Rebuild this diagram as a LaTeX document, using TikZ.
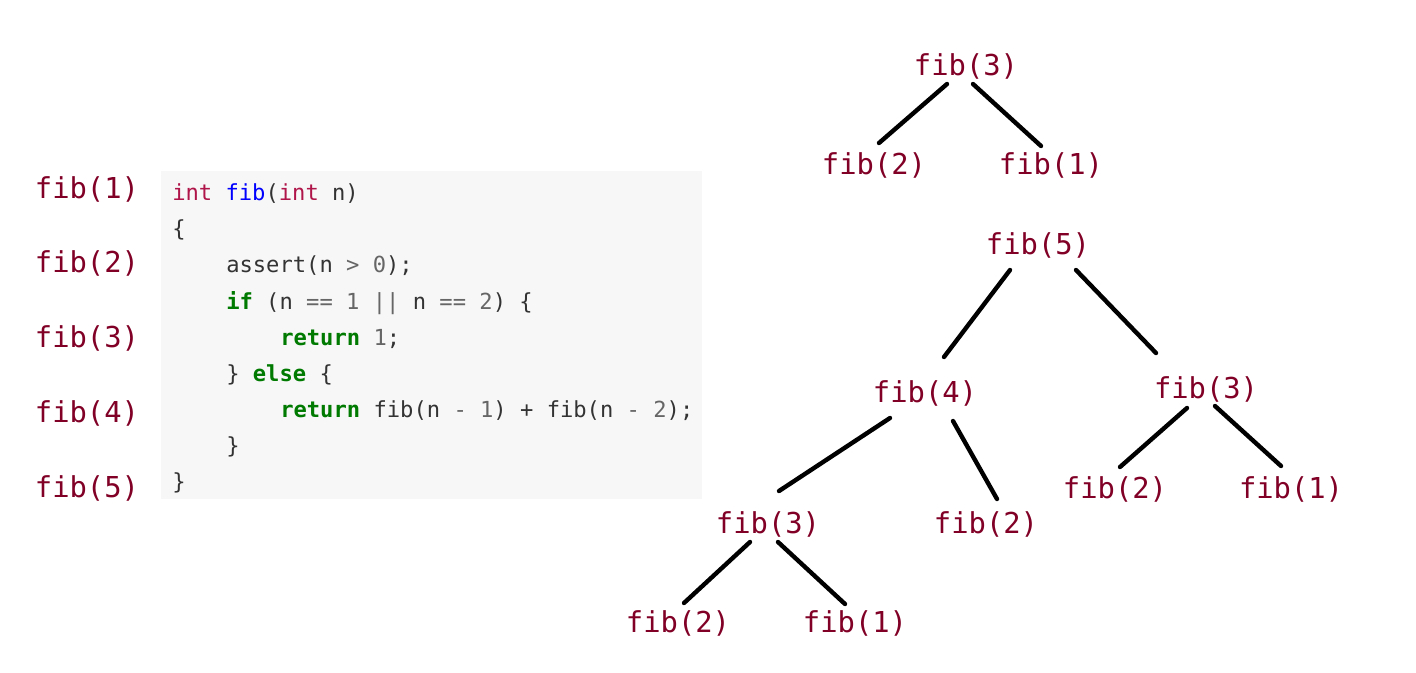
\documentclass[tikz,border=0pt]{standalone}
\usepackage{fontspec}
\setmonofont{DejaVu Sans Mono}
\usetikzlibrary{calc}
\definecolor{lbl}{HTML}{800026}
\definecolor{kw}{HTML}{B0154A}
\definecolor{fn}{HTML}{0000FF}
\definecolor{gk}{HTML}{007A00}
\definecolor{ct}{HTML}{333333}
\definecolor{nm}{HTML}{666666}
\definecolor{codebg}{HTML}{F7F7F7}
\newcommand{\ckw}[1]{\textcolor{kw}{#1}}
\newcommand{\cfn}[1]{\textcolor{fn}{#1}}
\newcommand{\cgk}[1]{\textcolor{gk}{\bfseries #1}}
\newcommand{\cnm}[1]{\textcolor{nm}{#1}}
\begin{document}
\begin{tikzpicture}[x=0.75pt,y=-0.75pt,
  lab/.style={inner sep=0pt,text=lbl,font=\ttfamily\fontsize{21.6pt}{24pt}\selectfont},
  code/.style={inner sep=0pt,anchor=base west,text=ct,font=\ttfamily\fontsize{16.6pt}{20pt}\selectfont},
  edge/.style={line width=3.3pt,line cap=round,black}]
\useasboundingbox (0,0) rectangle (1416,672);
% left labels
\node[lab] (l1) at (87,189) {fib(1)};
\node[lab] (l2) at (87,263) {fib(2)};
\node[lab] (l3) at (87,338) {fib(3)};
\node[lab] (l4) at (87,413) {fib(4)};
\node[lab] (l5) at (87,488) {fib(5)};
% code block
\fill[codebg] (161,171) rectangle (702,499);
\node[code] (c1) at (172,200) {\ckw{int} \cfn{fib}(\ckw{int} n)};
\node[code] (c2) at (172,236) {\{};
\node[code] (c3) at (226,272) {assert(n \cnm{>} \cnm{0});};
\node[code] (c4) at (226,309) {\cgk{if} (n \cnm{==} \cnm{1} \cnm{||} n \cnm{==} \cnm{2}) \{};
\node[code] (c5) at (280,345) {\cgk{return} \cnm{1};};
\node[code] (c6) at (226,381) {\} \cgk{else} \{};
\node[code] (c7) at (280,417) {\cgk{return} fib(n \cnm{-} \cnm{1}) + fib(n \cnm{-} \cnm{2});};
\node[code] (c8) at (226,453) {\}};
\node[code] (c9) at (172,489) {\}};
% top tree
\node[lab] (A) at (966,66) {fib(3)};
\node[lab] (B) at (874,165) {fib(2)};
\node[lab] (C) at (1051,165) {fib(1)};
\draw[edge] ($(A)+(-19,18)$) -- ($(B)+(5,-22)$);
\draw[edge] ($(A)+(7,18)$) -- ($(C)+(-10,-19)$);
% big tree
\node[lab] (R) at (1038,245) {fib(5)};
\node[lab] (L) at (925,393) {fib(4)};
\node[lab] (Rr) at (1206,389) {fib(3)};
\node[lab] (LL) at (768,524) {fib(3)};
\node[lab] (LR) at (986,524) {fib(2)};
\node[lab] (RL) at (1115,489) {fib(2)};
\node[lab] (RR) at (1291,489) {fib(1)};
\node[lab] (LLL) at (678,623) {fib(2)};
\node[lab] (LLR) at (855,623) {fib(1)};
\draw[edge] ($(R)+(-28,25)$) -- ($(L)+(19,-36)$);
\draw[edge] ($(R)+(38,25)$) -- ($(Rr)+(-50,-36)$);
\draw[edge] ($(L)+(-35,25)$) -- ($(LL)+(11,-33)$);
\draw[edge] ($(L)+(28,28)$) -- ($(LR)+(11,-25)$);
\draw[edge] ($(Rr)+(-19,19)$) -- ($(RL)+(5,-22)$);
\draw[edge] ($(Rr)+(9,17)$) -- ($(RR)+(-10,-23)$);
\draw[edge] ($(LL)+(-18,18)$) -- ($(LLL)+(6,-20)$);
\draw[edge] ($(LL)+(10,18)$) -- ($(LLR)+(-10,-19)$);
\end{tikzpicture}
\end{document}
